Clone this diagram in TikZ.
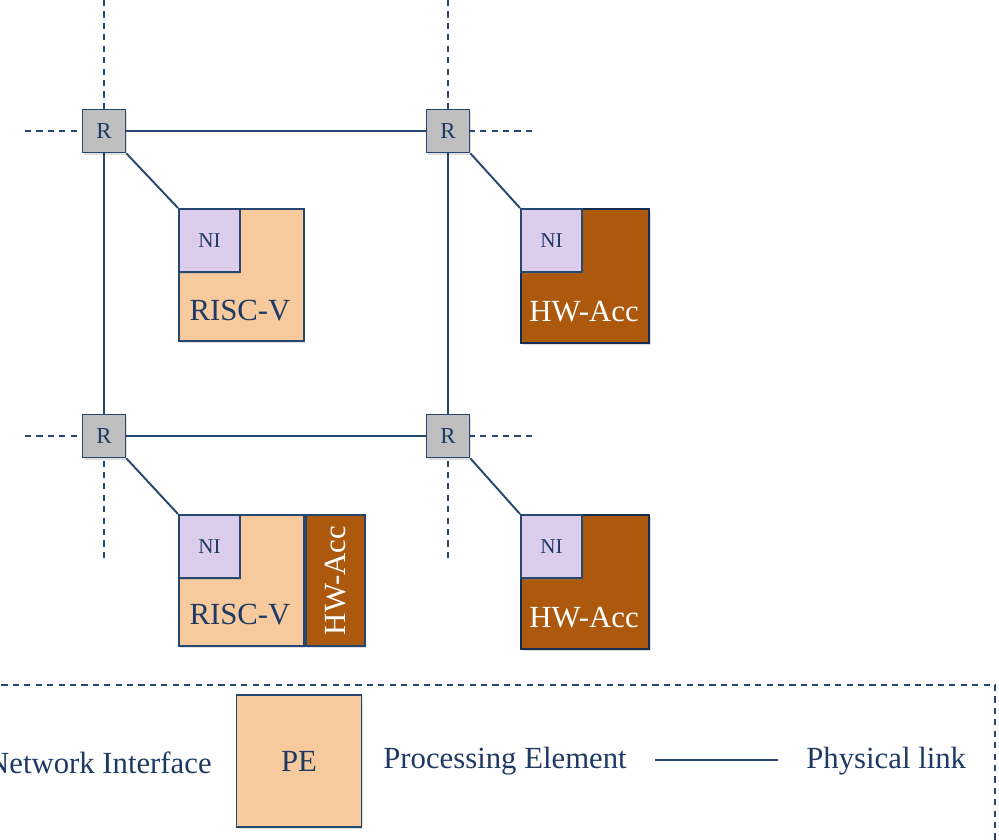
\documentclass[tikz,border=0pt]{standalone}
\usepackage{fontspec}
\setmainfont{Liberation Serif}
\usetikzlibrary{positioning, shadows}
\definecolor{LinkBlue}{RGB}{38,72,112}
\definecolor{TextBlue}{RGB}{30,58,100}
\definecolor{RouterGray}{RGB}{191,191,191}
\definecolor{NiLilac}{RGB}{221,205,236}
\definecolor{PeOrange}{RGB}{247,202,158}
\definecolor{AccBrown}{RGB}{172,89,14}
\definecolor{DarkAcc}{RGB}{20,45,80}

\begin{document}
\begin{tikzpicture}[x=0.02cm, y=-0.02cm,
    link/.style={LinkBlue, line width=1.1pt},
    ext/.style={link, dash pattern=on 3.5pt off 3pt},
    shade/.style={drop shadow={opacity=0.25, shadow xshift=0.8pt, shadow yshift=-1.2pt}},
    router/.style={draw=LinkBlue, fill=RouterGray, line width=1.1pt, minimum size=0.86cm,
        inner sep=0pt, text=TextBlue, font=\fontsize{13}{13}\selectfont, shade},
    pebox/.style={draw=LinkBlue, fill=PeOrange, line width=1.1pt, minimum width=2.5cm,
        minimum height=2.64cm, inner sep=0pt, anchor=north west, shade},
    accbox/.style={pebox, fill=AccBrown, draw=DarkAcc, line width=1.4pt, minimum width=2.56cm,
        minimum height=2.68cm},
    nibox/.style={draw=LinkBlue, fill=NiLilac, line width=1.1pt, minimum width=1.22cm,
        minimum height=1.26cm, inner sep=0pt, anchor=north west, text=TextBlue,
        font=\fontsize{12}{12}\selectfont, shade},
    petext/.style={text=TextBlue, font=\fontsize{17.5}{17.5}\selectfont, inner sep=0pt},
    acctext/.style={petext, text=white}]

\useasboundingbox (0,0) rectangle (999,839);

% routers
\node[router] (r11) at (104,131) {R};
\node[router] (r12) at (448,131) {R};
\node[router] (r21) at (104,436) {R};
\node[router] (r22) at (448,436) {R};

% free ends of the mesh
\coordinate (r11n) at (104,0);
\coordinate (r11w) at (25,131);
\coordinate (r12n) at (448,0);
\coordinate (r12e) at (532,131);
\coordinate (r21w) at (25,436);
\coordinate (r21s) at (104,558);
\coordinate (r22e) at (532,436);
\coordinate (r22s) at (448,558);

\draw[ext] (r11n) -- (r11) (r11w) -- (r11);
\draw[ext] (r12n) -- (r12) (r12e) -- (r12);
\draw[ext] (r21w) -- (r21) (r21s) -- (r21);
\draw[ext] (r22e) -- (r22) (r22s) -- (r22);

% physical links
\draw[link] (r11) -- (r12);
\draw[link] (r21) -- (r22);
\draw[link] (r11) -- (r21);
\draw[link] (r12) -- (r22);

% processing elements
\node[pebox] (pe11) at (178,208) {};
\node[accbox] (pe12) at (520,208) {};
\node[pebox, minimum height=2.62cm] (pe21) at (178,514) {};
\node[pebox, fill=AccBrown, minimum width=1.18cm, minimum height=2.62cm] (acc21) at (pe21.north east) {};
\node[accbox] (pe22) at (520,514) {};

\node[petext] (t11) at (240,311) {RISC-V};
\node[acctext] (t12) at (584,312) {HW-Acc};
\node[petext] (t21) at (240,615) {RISC-V};
\node[acctext, rotate=90] (t21a) at (acc21.center) {HW-Acc};
\node[acctext] (t22) at (584,618) {HW-Acc};

% network interfaces
\foreach \p in {pe11, pe12, pe21, pe22}{
    \node[nibox] (ni-\p) at (\p.north west) {NI};
}
\draw[link] (r11.south east) -- (ni-pe11.north west);
\draw[link] (r12.south east) -- (ni-pe12.north west);
\draw[link] (r21.south east) -- (ni-pe21.north west);
\draw[link] (r22.south east) -- (ni-pe22.north west);

% legend
\draw[ext] (-10,685) -- (995,685) -- (995,850);
\node[petext, anchor=east] (lni) at (212,763) {Network Interface};
\node[pebox, anchor=center] (lpe) at (299,761) {};
\node[petext] (lpet) at (lpe.center) {PE};
\node[petext, anchor=west] (lpel) at (383,761) {Processing Element};
\coordinate (la) at (655,760);
\coordinate (lb) at (778,760);
\draw[link] (la) -- (lb);
\node[petext, anchor=west] (llink) at (806,761) {Physical link};

\end{tikzpicture}
\end{document}
